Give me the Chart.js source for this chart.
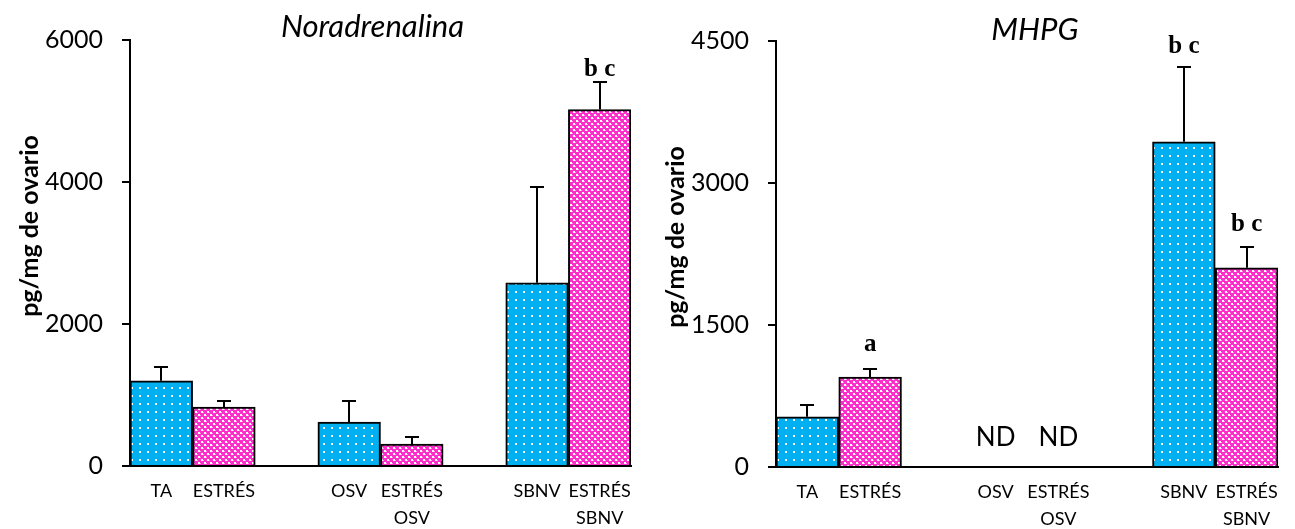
<!DOCTYPE html>
<html>
<head>
<meta charset="utf-8">
<script src="https://cdn.jsdelivr.net/npm/chart.js@4.4.1/dist/chart.umd.min.js"></script>
<style>
  body { margin: 0; background: #fff; }
  .panel { position: absolute; top: 0; }
</style>
</head>
<body>
<div class="panel" style="left:0"><canvas id="noraChart" width="646" height="529"></canvas></div>
<div class="panel" style="left:646px"><canvas id="mhpgChart" width="649" height="529"></canvas></div>
<script>
const categories = ['TA', 'ESTRÉS', '', 'OSV', ['ESTRÉS', 'OSV'], '', 'SBNV', ['ESTRÉS', 'SBNV']];
const groupKind = ['ctrl', 'stress', '', 'ctrl', 'stress', '', 'ctrl', 'stress'];

const noraValues = [1200, 830, null, 620, 310, null, 2580, 5020];
const noraErrors = [200, 90, null, 290, 105, null, 1355, 390];
const noraLetters = ['', '', '', '', '', '', '', 'b c'];
const noraLetterY = [null, null, null, null, null, null, null, 5490];
const noraNd = [false, false, false, false, false, false, false, false];
const noraTicks = [0, 2000, 4000, 6000];

const mhpgValues = [530, 950, null, null, null, null, 3435, 2105];
const mhpgErrors = [130, 85, null, null, null, null, 790, 215];
const mhpgLetters = ['', 'a', '', '', '', '', 'b c', 'b c'];
const mhpgLetterY = [null, 1225, null, null, null, null, 4375, 2495];
const mhpgNd = [false, false, false, true, true, false, false, false];
const mhpgTicks = [0, 1500, 3000, 4500];

// patrones de relleno (puntos en azul, cuadricula en rosa)
function makePattern(kind) {
  const c = document.createElement('canvas');
  const g = c.getContext('2d');
  if (kind === 'ctrl') {
    c.width = 8; c.height = 8;
    g.fillStyle = '#00B0F0';
    g.fillRect(0, 0, 8, 8);
    g.fillStyle = '#ffffff';
    g.fillRect(3, 3, 2, 2);
  } else {
    c.width = 6; c.height = 6;
    g.fillStyle = '#FF2ECB';
    g.fillRect(0, 0, 6, 6);
    g.fillStyle = '#ffffff';
    g.fillRect(0, 0, 2, 2);
    g.fillRect(3, 3, 2, 2);
    g.fillStyle = '#FF99E6';
    g.fillRect(2, 1, 1, 1);
    g.fillRect(5, 4, 1, 1);
  }
  return document.createElement('canvas').getContext('2d').createPattern(c, 'repeat');
}

const barFills = groupKind.map(k => k ? makePattern(k) : 'transparent');

const barExtras = {
  id: 'barExtras',
  afterDatasetsDraw(chart, args, opts) {
    const ctx = chart.ctx;
    const xs = chart.scales.x;
    const ys = chart.scales.y;
    const values = chart.data.datasets[0].data;
    ctx.save();
    ctx.strokeStyle = '#000';
    ctx.lineWidth = 2;
    opts.errors.forEach((e, i) => {
      if (values[i] == null || e == null) return;
      const cx = Math.round(xs.getPixelForValue(i));
      const y0 = ys.getPixelForValue(values[i]);
      const y1 = Math.round(ys.getPixelForValue(values[i] + e));
      ctx.beginPath();
      ctx.moveTo(cx, y0);
      ctx.lineTo(cx, y1);
      ctx.moveTo(cx - 7, y1);
      ctx.lineTo(cx + 7, y1);
      ctx.stroke();
    });

    ctx.fillStyle = '#000';
    ctx.textAlign = 'center';
    ctx.textBaseline = 'alphabetic';
    ctx.font = 'bold 25px "Liberation Serif"';
    opts.letters.forEach((t, i) => {
      if (!t) return;
      ctx.fillText(t, xs.getPixelForValue(i), ys.getPixelForValue(opts.letterY[i]));
    });
    ctx.font = '26px Lato';
    opts.nd.forEach((flag, i) => {
      if (!flag) return;
      ctx.fillText('ND', xs.getPixelForValue(i), chart.chartArea.bottom - 21);
    });
    ctx.restore();
  },
  afterDraw(chart, args, opts) {
    const ctx = chart.ctx;
    const area = chart.chartArea;
    ctx.save();
    ctx.fillStyle = '#000';
    ctx.textAlign = 'center';
    ctx.textBaseline = 'middle';
    ctx.font = 'italic 31px Lato';
    ctx.fillText(opts.title, (area.left + area.right) / 2 + opts.titleDx, opts.titleY);

    ctx.translate(30, opts.yLabelY);
    ctx.rotate(-Math.PI / 2);
    ctx.font = 'bold 25px Lato';
    ctx.fillText('pg/mg de ovario', 0, 0);
    ctx.restore();
  }
};

function buildChart(id, values, errors, letters, letterY, nd, ticks, extra) {
  return new Chart(document.getElementById(id), {
    type: 'bar',
    data: {
      labels: categories,
      datasets: [{
        data: values,
        backgroundColor: barFills,
        borderColor: '#000',
        borderWidth: 2,
        borderSkipped: 'bottom',
        barPercentage: 1,
        categoryPercentage: 1
      }]
    },
    plugins: [barExtras],
    options: {
      responsive: false,
      animation: false,
      layout: { padding: { left: 0, top: extra.top, right: extra.right, bottom: 0 } },
      plugins: {
        legend: { display: false },
        tooltip: { enabled: false },
        barExtras: {
          errors: errors,
          letters: letters,
          letterY: letterY,
          nd: nd,
          title: extra.title,
          titleDx: extra.titleDx,
          titleY: extra.titleY,
          yLabelY: extra.yLabelY
        }
      },
      scales: {
        x: {
          grid: { display: false, drawTicks: false },
          border: { display: true, color: '#000', width: 2 },
          ticks: {
            color: '#000',
            autoSkip: false,
            maxRotation: 0,
            padding: 12,
            font: { family: 'Lato', size: 18, lineHeight: 1.5 }
          },
          afterFit: s => { s.height = extra.xHeight; }
        },
        y: {
          min: ticks[0],
          max: ticks[ticks.length - 1],
          grid: { display: true, drawOnChartArea: false, drawTicks: true, tickLength: 8, color: '#000', lineWidth: 2 },
          border: { display: true, color: '#000', width: 2 },
          ticks: {
            stepSize: ticks[1] - ticks[0],
            color: '#000',
            padding: 19,
            font: { family: 'Lato', size: 25 },
            callback: v => String(v)
          },
          afterFit: s => { s.width = 130; }
        }
      }
    }
  });
}

buildChart('noraChart', noraValues, noraErrors, noraLetters, noraLetterY, noraNd, noraTicks,
  { title: 'Noradrenalina', titleDx: -8, titleY: 27, yLabelY: 226, top: 40, right: 15, xHeight: 63 });
buildChart('mhpgChart', mhpgValues, mhpgErrors, mhpgLetters, mhpgLetterY, mhpgNd, mhpgTicks,
  { title: 'MHPG', titleDx: 8, titleY: 30, yLabelY: 237, top: 41, right: 17, xHeight: 62 });
</script>
</body>
</html>
